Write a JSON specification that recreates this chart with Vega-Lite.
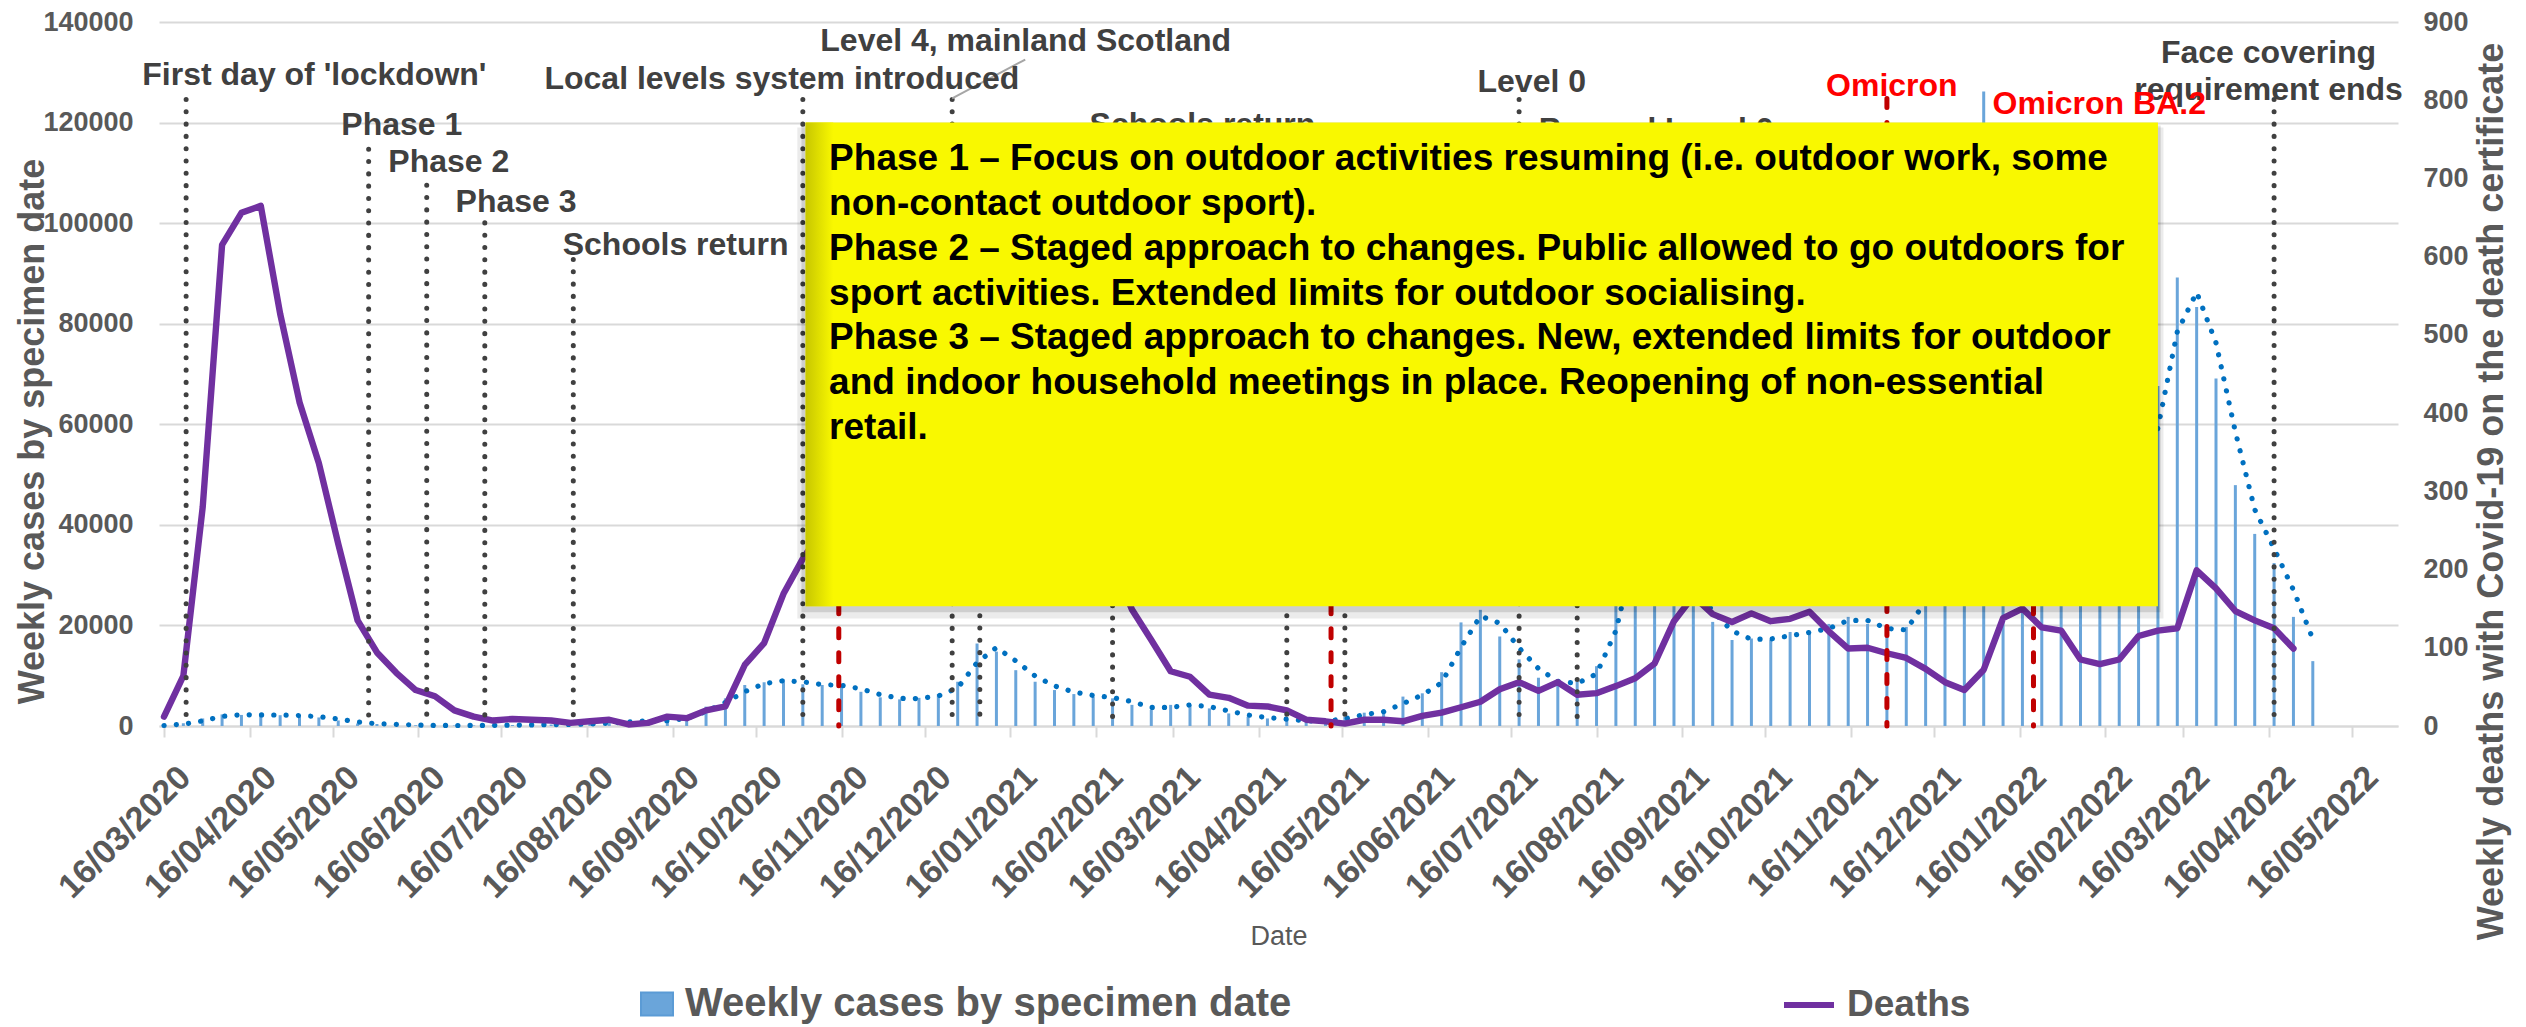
{
  "$schema": "https://vega.github.io/schema/vega-lite/v6.json",
  "width": 2239,
  "height": 704,
  "autosize": {"type": "none"},
  "padding": {"left": 159, "top": 22, "right": 128, "bottom": 301},
  "background": "white",
  "config": {
    "font": "Liberation Sans",
    "view": {"stroke": null},
    "axis": {"labelFont": "Liberation Sans", "titleFont": "Liberation Sans"},
    "axisX": {"labelFontSize": 34, "labelFontWeight": "bold", "labelColor": "#595959", "labelAngle": -45, "labelAlign": "right", "labelBaseline": "top", "labelPadding": 23, "labelOffset": 9, "labelLimit": 1000},
    "legend": {"labelFont": "Liberation Sans"}
  },
  "datasets": {
    "weekly": [
      {"date": "2020-03-16", "cases": 150, "trend": 100, "deaths": 12},
      {"date": "2020-03-23", "cases": 550, "trend": 350, "deaths": 64},
      {"date": "2020-03-30", "cases": 1500, "trend": 1025, "deaths": 280},
      {"date": "2020-04-06", "cases": 2300, "trend": 1900, "deaths": 615},
      {"date": "2020-04-13", "cases": 2200, "trend": 2250, "deaths": 656},
      {"date": "2020-04-20", "cases": 2200, "trend": 2200, "deaths": 665},
      {"date": "2020-04-27", "cases": 2150, "trend": 2175, "deaths": 527},
      {"date": "2020-05-04", "cases": 2000, "trend": 2075, "deaths": 414},
      {"date": "2020-05-11", "cases": 1700, "trend": 1850, "deaths": 336},
      {"date": "2020-05-18", "cases": 1100, "trend": 1400, "deaths": 233},
      {"date": "2020-05-25", "cases": 500, "trend": 800, "deaths": 135},
      {"date": "2020-06-01", "cases": 400, "trend": 450, "deaths": 94},
      {"date": "2020-06-08", "cases": 250, "trend": 325, "deaths": 68},
      {"date": "2020-06-15", "cases": 150, "trend": 200, "deaths": 46},
      {"date": "2020-06-22", "cases": 100, "trend": 125, "deaths": 38},
      {"date": "2020-06-29", "cases": 100, "trend": 100, "deaths": 20},
      {"date": "2020-07-06", "cases": 120, "trend": 110, "deaths": 12},
      {"date": "2020-07-13", "cases": 150, "trend": 135, "deaths": 7},
      {"date": "2020-07-20", "cases": 200, "trend": 175, "deaths": 9},
      {"date": "2020-07-27", "cases": 250, "trend": 225, "deaths": 8},
      {"date": "2020-08-03", "cases": 300, "trend": 275, "deaths": 7},
      {"date": "2020-08-10", "cases": 350, "trend": 325, "deaths": 4},
      {"date": "2020-08-17", "cases": 450, "trend": 400, "deaths": 6},
      {"date": "2020-08-24", "cases": 650, "trend": 550, "deaths": 8},
      {"date": "2020-08-31", "cases": 1000, "trend": 825, "deaths": 2},
      {"date": "2020-09-07", "cases": 1050, "trend": 1025, "deaths": 4},
      {"date": "2020-09-14", "cases": 1100, "trend": 1075, "deaths": 12},
      {"date": "2020-09-21", "cases": 1900, "trend": 1500, "deaths": 10},
      {"date": "2020-09-28", "cases": 3850, "trend": 2875, "deaths": 20},
      {"date": "2020-10-05", "cases": 5500, "trend": 4675, "deaths": 25},
      {"date": "2020-10-12", "cases": 8150, "trend": 6825, "deaths": 78},
      {"date": "2020-10-19", "cases": 8700, "trend": 8425, "deaths": 106},
      {"date": "2020-10-26", "cases": 9300, "trend": 9000, "deaths": 169},
      {"date": "2020-11-02", "cases": 8300, "trend": 8800, "deaths": 214},
      {"date": "2020-11-09", "cases": 8150, "trend": 8225, "deaths": 250},
      {"date": "2020-11-16", "cases": 8000, "trend": 8075, "deaths": 290},
      {"date": "2020-11-23", "cases": 6800, "trend": 7400, "deaths": 310},
      {"date": "2020-11-30", "cases": 5700, "trend": 6250, "deaths": 300},
      {"date": "2020-12-07", "cases": 5300, "trend": 5500, "deaths": 280},
      {"date": "2020-12-14", "cases": 5600, "trend": 5450, "deaths": 255},
      {"date": "2020-12-21", "cases": 6350, "trend": 5975, "deaths": 240},
      {"date": "2020-12-28", "cases": 8800, "trend": 7575, "deaths": 250},
      {"date": "2021-01-04", "cases": 16400, "trend": 12600, "deaths": 290},
      {"date": "2021-01-11", "cases": 14800, "trend": 15600, "deaths": 360},
      {"date": "2021-01-18", "cases": 11100, "trend": 12950, "deaths": 420},
      {"date": "2021-01-25", "cases": 8800, "trend": 9950, "deaths": 440},
      {"date": "2021-02-01", "cases": 7150, "trend": 7975, "deaths": 390},
      {"date": "2021-02-08", "cases": 6350, "trend": 6750, "deaths": 330},
      {"date": "2021-02-15", "cases": 5800, "trend": 6075, "deaths": 265},
      {"date": "2021-02-22", "cases": 5500, "trend": 5650, "deaths": 210},
      {"date": "2021-03-01", "cases": 4200, "trend": 4850, "deaths": 149},
      {"date": "2021-03-08", "cases": 3200, "trend": 3700, "deaths": 110},
      {"date": "2021-03-15", "cases": 4200, "trend": 3700, "deaths": 70},
      {"date": "2021-03-22", "cases": 4200, "trend": 4200, "deaths": 63},
      {"date": "2021-03-29", "cases": 3500, "trend": 3850, "deaths": 40},
      {"date": "2021-04-05", "cases": 2500, "trend": 3000, "deaths": 36},
      {"date": "2021-04-12", "cases": 1850, "trend": 2175, "deaths": 26},
      {"date": "2021-04-19", "cases": 1500, "trend": 1675, "deaths": 25},
      {"date": "2021-04-26", "cases": 1200, "trend": 1350, "deaths": 20},
      {"date": "2021-05-03", "cases": 850, "trend": 1025, "deaths": 8},
      {"date": "2021-05-10", "cases": 1050, "trend": 950, "deaths": 6},
      {"date": "2021-05-17", "cases": 1850, "trend": 1450, "deaths": 3},
      {"date": "2021-05-24", "cases": 2650, "trend": 2250, "deaths": 8},
      {"date": "2021-05-31", "cases": 3050, "trend": 2850, "deaths": 8},
      {"date": "2021-06-07", "cases": 5850, "trend": 4450, "deaths": 6},
      {"date": "2021-06-14", "cases": 6500, "trend": 6175, "deaths": 13},
      {"date": "2021-06-21", "cases": 10700, "trend": 8600, "deaths": 17},
      {"date": "2021-06-28", "cases": 20600, "trend": 15650, "deaths": 24},
      {"date": "2021-07-05", "cases": 23100, "trend": 21850, "deaths": 31},
      {"date": "2021-07-12", "cases": 17800, "trend": 20450, "deaths": 47},
      {"date": "2021-07-19", "cases": 13250, "trend": 15525, "deaths": 56},
      {"date": "2021-07-26", "cases": 9600, "trend": 11425, "deaths": 45},
      {"date": "2021-08-02", "cases": 8150, "trend": 8875, "deaths": 56},
      {"date": "2021-08-09", "cases": 8800, "trend": 8475, "deaths": 40},
      {"date": "2021-08-16", "cases": 11900, "trend": 10350, "deaths": 42},
      {"date": "2021-08-23", "cases": 26000, "trend": 18950, "deaths": 51},
      {"date": "2021-08-30", "cases": 44000, "trend": 35000, "deaths": 61},
      {"date": "2021-09-06", "cases": 40000, "trend": 42000, "deaths": 80},
      {"date": "2021-09-13", "cases": 31000, "trend": 35500, "deaths": 134},
      {"date": "2021-09-20", "cases": 25000, "trend": 28000, "deaths": 166},
      {"date": "2021-09-27", "cases": 20700, "trend": 22850, "deaths": 143},
      {"date": "2021-10-04", "cases": 17100, "trend": 18900, "deaths": 133},
      {"date": "2021-10-11", "cases": 17400, "trend": 17250, "deaths": 144},
      {"date": "2021-10-18", "cases": 17200, "trend": 17300, "deaths": 134},
      {"date": "2021-10-25", "cases": 18700, "trend": 17950, "deaths": 137},
      {"date": "2021-11-01", "cases": 18500, "trend": 18600, "deaths": 146},
      {"date": "2021-11-08", "cases": 20300, "trend": 19400, "deaths": 121},
      {"date": "2021-11-15", "cases": 21700, "trend": 21000, "deaths": 99},
      {"date": "2021-11-22", "cases": 20300, "trend": 21000, "deaths": 100},
      {"date": "2021-11-29", "cases": 18500, "trend": 19400, "deaths": 93},
      {"date": "2021-12-06", "cases": 19700, "trend": 19100, "deaths": 87},
      {"date": "2021-12-13", "cases": 30000, "trend": 24850, "deaths": 73},
      {"date": "2021-12-20", "cases": 58000, "trend": 44000, "deaths": 56},
      {"date": "2021-12-27", "cases": 100000, "trend": 79000, "deaths": 46},
      {"date": "2022-01-03", "cases": 126200, "trend": 113100, "deaths": 72},
      {"date": "2022-01-10", "cases": 85000, "trend": 105600, "deaths": 138},
      {"date": "2022-01-17", "cases": 52000, "trend": 68500, "deaths": 150},
      {"date": "2022-01-24", "cases": 44000, "trend": 48000, "deaths": 126},
      {"date": "2022-01-31", "cases": 42000, "trend": 43000, "deaths": 122},
      {"date": "2022-02-07", "cases": 40000, "trend": 41000, "deaths": 85},
      {"date": "2022-02-14", "cases": 41000, "trend": 40500, "deaths": 79},
      {"date": "2022-02-21", "cases": 44000, "trend": 42500, "deaths": 85},
      {"date": "2022-02-28", "cases": 51000, "trend": 47500, "deaths": 115},
      {"date": "2022-03-07", "cases": 67600, "trend": 59300, "deaths": 122},
      {"date": "2022-03-14", "cases": 89200, "trend": 78400, "deaths": 125},
      {"date": "2022-03-21", "cases": 83300, "trend": 86250, "deaths": 199},
      {"date": "2022-03-28", "cases": 69100, "trend": 76200, "deaths": 176},
      {"date": "2022-04-04", "cases": 47900, "trend": 58500, "deaths": 147},
      {"date": "2022-04-11", "cases": 38200, "trend": 43050, "deaths": 135},
      {"date": "2022-04-18", "cases": 32400, "trend": 35300, "deaths": 125},
      {"date": "2022-04-25", "cases": 21700, "trend": 27050, "deaths": 99},
      {"date": "2022-05-02", "cases": 12900, "trend": 17300, "deaths": null}
    ],
    "blackEvents": [
      {"date": "2020-03-24", "top": 124600},
      {"date": "2020-05-29", "top": 114700},
      {"date": "2020-06-19", "top": 107550},
      {"date": "2020-07-10", "top": 100060},
      {"date": "2020-08-11", "top": 92780},
      {"date": "2020-11-02", "top": 124600},
      {"date": "2020-12-26", "top": 124600},
      {"date": "2021-01-05", "top": 110000},
      {"date": "2021-02-22", "top": 112000},
      {"date": "2021-04-26", "top": 110000},
      {"date": "2021-05-17", "top": 110000},
      {"date": "2021-07-19", "top": 124600},
      {"date": "2021-08-09", "top": 112000},
      {"date": "2022-04-18", "top": 124600}
    ],
    "redEvents": [
      {"date": "2020-11-15", "top": 110000},
      {"date": "2021-05-12", "top": 110000},
      {"date": "2021-11-29", "top": 124800},
      {"date": "2022-01-21", "top": 110000}
    ]
  },
  "layer": [
    {
      "data": {"name": "weekly"},
      "layer": [
        {
          "mark": {"type": "bar", "size": 3},
          "encoding": {
            "x": {
              "field": "date", "type": "temporal",
              "scale": {"type": "utc", "domain": [{"year": 2020, "month": 3, "date": 16, "utc": true}, {"year": 2022, "month": 5, "date": 31, "utc": true}]},
              "axis": {
                "values": [
                  {"year": 2020, "month": 3, "date": 16, "utc": true}, {"year": 2020, "month": 4, "date": 16, "utc": true}, {"year": 2020, "month": 5, "date": 16, "utc": true},
                  {"year": 2020, "month": 6, "date": 16, "utc": true}, {"year": 2020, "month": 7, "date": 16, "utc": true}, {"year": 2020, "month": 8, "date": 16, "utc": true},
                  {"year": 2020, "month": 9, "date": 16, "utc": true}, {"year": 2020, "month": 10, "date": 16, "utc": true}, {"year": 2020, "month": 11, "date": 16, "utc": true},
                  {"year": 2020, "month": 12, "date": 16, "utc": true}, {"year": 2021, "month": 1, "date": 16, "utc": true}, {"year": 2021, "month": 2, "date": 16, "utc": true},
                  {"year": 2021, "month": 3, "date": 16, "utc": true}, {"year": 2021, "month": 4, "date": 16, "utc": true}, {"year": 2021, "month": 5, "date": 16, "utc": true},
                  {"year": 2021, "month": 6, "date": 16, "utc": true}, {"year": 2021, "month": 7, "date": 16, "utc": true}, {"year": 2021, "month": 8, "date": 16, "utc": true},
                  {"year": 2021, "month": 9, "date": 16, "utc": true}, {"year": 2021, "month": 10, "date": 16, "utc": true}, {"year": 2021, "month": 11, "date": 16, "utc": true},
                  {"year": 2021, "month": 12, "date": 16, "utc": true}, {"year": 2022, "month": 1, "date": 16, "utc": true}, {"year": 2022, "month": 2, "date": 16, "utc": true},
                  {"year": 2022, "month": 3, "date": 16, "utc": true}, {"year": 2022, "month": 4, "date": 16, "utc": true}, {"year": 2022, "month": 5, "date": 16, "utc": true}
                ],
                "format": "%d/%m/%Y",
                "labelAngle": -45,
                "labelAlign": "right",
                "labelBaseline": "top",
                "labelFontSize": 34,
                "labelFontWeight": "bold",
                "labelColor": "#595959",
                "labelPadding": 23,
                "labelOffset": 9,
                "labelFlush": false,
                "labelOverlap": false,
                "labelBound": false,
                "tickSize": 11,
                "tickColor": "#D9D9D9",
                "tickWidth": 2,
                "domainColor": "#D9D9D9",
                "domainWidth": 2,
                "grid": false,
                "title": "Date",
                "titleFontSize": 27,
                "titleFontWeight": "normal",
                "titleColor": "#595959",
                "titleY": 210,
                "titleBaseline": "middle"
              }
            },
            "y": {
              "field": "cases", "type": "quantitative",
              "scale": {"domain": [0, 140000], "nice": false},
              "axis": {
                "orient": "left",
                "values": [0, 20000, 40000, 60000, 80000, 100000, 120000, 140000],
                "format": "d",
                "labelFontSize": 27,
                "labelFontWeight": "bold",
                "labelColor": "#595959",
                "labelPadding": 26,
                "ticks": false,
                "tickSize": 0,
                "domain": false,
                "grid": true,
                "gridColor": "#D9D9D9",
                "gridWidth": 2,
                "title": "Weekly cases by specimen date",
                "titleFontSize": 36,
                "titleFontWeight": "bold",
                "titleColor": "#595959",
                "titleAngle": 270,
                "titleX": -116,
                "titleY": 409,
                "titleAlign": "center",
                "titleBaseline": "alphabetic"
              }
            },
            "color": {
              "datum": "Weekly cases by specimen date", "type": "nominal",
              "scale": {"range": ["#6AA5DA"]},
              "legend": {
                "orient": "none", "legendX": 478, "legendY": 962, "title": null,
                "labelFontSize": 40, "labelFontWeight": "bold", "labelColor": "#595959", "labelLimit": 2000,
                "labelOffset": 8,
                "symbolType": "M-1,-0.72H1V0.72H-1Z", "symbolSize": 1024,
                "encode": {"symbols": {"update": {"fill": {"value": "#DAE3F3"}, "stroke": {"value": "#5B9BD5"}, "strokeWidth": {"value": 2}}}}
              }
            }
          }
        },
        {
          "mark": {"type": "line", "color": "#0070C0", "strokeWidth": 5.2, "strokeDash": [0.1, 12.2], "strokeCap": "round"},
          "encoding": {
            "x": {"field": "date", "type": "temporal", "scale": {"type": "utc", "domain": [{"year": 2020, "month": 3, "date": 16, "utc": true}, {"year": 2022, "month": 5, "date": 31, "utc": true}]}},
            "y": {"field": "trend", "type": "quantitative", "scale": {"domain": [0, 140000], "nice": false}}
          }
        }
      ]
    },
    {
      "data": {"name": "weekly"},
      "mark": {"type": "line", "strokeWidth": 6.4, "strokeJoin": "round", "strokeCap": "round"},
      "encoding": {
        "x": {"field": "date", "type": "temporal", "scale": {"type": "utc", "domain": [{"year": 2020, "month": 3, "date": 16, "utc": true}, {"year": 2022, "month": 5, "date": 31, "utc": true}]}},
        "y": {
          "field": "deaths", "type": "quantitative",
          "scale": {"domain": [0, 900], "nice": false},
          "axis": {
            "orient": "right",
            "values": [0, 100, 200, 300, 400, 500, 600, 700, 800, 900],
            "labelFontSize": 27,
            "labelFontWeight": "bold",
            "labelColor": "#595959",
            "labelPadding": 25,
            "ticks": false,
            "tickSize": 0,
            "domain": false,
            "grid": false,
            "title": "Weekly deaths with Covid-19 on the death certificate",
            "titleFontSize": 36,
            "titleFontWeight": "bold",
            "titleColor": "#595959",
            "titleAngle": 270,
            "titleX": 104,
            "titleY": 469,
            "titleAlign": "center",
            "titleBaseline": "alphabetic"
          }
        },
        "stroke": {
          "datum": "Deaths", "type": "nominal",
          "scale": {"range": ["#7030A0"]},
          "legend": {
            "orient": "none", "legendX": 1622, "legendY": 955, "title": null,
            "labelFontSize": 37, "labelFontWeight": "bold", "labelColor": "#595959", "labelLimit": 2000,
            "labelOffset": 10,
            "symbolType": "stroke", "symbolSize": 2500, "symbolStrokeWidth": 6, "symbolStrokeColor": "#7030A0"
          }
        }
      }
    },
    {
      "data": {"values": [{}]},
      "layer": [
        {
          "data": {"name": "redEvents"},
          "mark": {"type": "rule", "color": "#C00000", "strokeWidth": 5, "strokeDash": [9, 15], "strokeCap": "round"},
          "encoding": {
            "x": {"field": "date", "type": "temporal", "scale": {"type": "utc", "domain": [{"year": 2020, "month": 3, "date": 16, "utc": true}, {"year": 2022, "month": 5, "date": 31, "utc": true}]}},
            "y": {"field": "top", "type": "quantitative", "scale": {"domain": [0, 140000], "nice": false}, "axis": null},
            "y2": {"datum": 0}
          }
        },
        {
          "data": {"name": "blackEvents"},
          "mark": {"type": "rule", "color": "#404040", "strokeWidth": 5, "strokeDash": [0.1, 12.2], "strokeCap": "round"},
          "encoding": {
            "x": {"field": "date", "type": "temporal", "scale": {"type": "utc", "domain": [{"year": 2020, "month": 3, "date": 16, "utc": true}, {"year": 2022, "month": 5, "date": 31, "utc": true}]}},
            "y": {"field": "top", "type": "quantitative", "scale": {"domain": [0, 140000], "nice": false}, "axis": null},
            "y2": {"datum": 0}
          }
        },
        {
          "mark": {"type": "rule", "color": "#A6A6A6", "strokeWidth": 2},
          "encoding": {
            "x": {"datum": {"year": 2020, "month": 12, "date": 26, "utc": true}, "type": "temporal", "scale": {"type": "utc", "domain": [{"year": 2020, "month": 3, "date": 16, "utc": true}, {"year": 2022, "month": 5, "date": 31, "utc": true}]}},
            "x2": {"datum": {"year": 2021, "month": 1, "date": 21, "hours": 10, "utc": true}},
            "y": {"datum": 124800, "type": "quantitative", "scale": {"domain": [0, 140000], "nice": false}, "axis": null},
            "y2": {"datum": 132540}
          }
        },
        {
          "mark": {"type": "text", "text": "First day of 'lockdown'", "fontSize": 32, "fontWeight": "bold", "color": "#404040", "align": "center", "baseline": "middle"},
          "encoding": {
            "x": {"datum": {"year": 2020, "month": 5, "date": 9, "hours": 9, "utc": true}, "type": "temporal", "scale": {"type": "utc", "domain": [{"year": 2020, "month": 3, "date": 16, "utc": true}, {"year": 2022, "month": 5, "date": 31, "utc": true}]}},
            "y": {"datum": 129400, "type": "quantitative", "scale": {"domain": [0, 140000], "nice": false}, "axis": null}
          }
        },
        {
          "mark": {"type": "text", "text": "Phase 1", "fontSize": 32, "fontWeight": "bold", "color": "#404040", "align": "center", "baseline": "middle"},
          "encoding": {
            "x": {"datum": {"year": 2020, "month": 6, "date": 10, "utc": true}, "type": "temporal", "scale": {"type": "utc", "domain": [{"year": 2020, "month": 3, "date": 16, "utc": true}, {"year": 2022, "month": 5, "date": 31, "utc": true}]}},
            "y": {"datum": 119480, "type": "quantitative", "scale": {"domain": [0, 140000], "nice": false}, "axis": null}
          }
        },
        {
          "mark": {"type": "text", "text": "Phase 2", "fontSize": 32, "fontWeight": "bold", "color": "#404040", "align": "center", "baseline": "middle"},
          "encoding": {
            "x": {"datum": {"year": 2020, "month": 6, "date": 27, "utc": true}, "type": "temporal", "scale": {"type": "utc", "domain": [{"year": 2020, "month": 3, "date": 16, "utc": true}, {"year": 2022, "month": 5, "date": 31, "utc": true}]}},
            "y": {"datum": 112120, "type": "quantitative", "scale": {"domain": [0, 140000], "nice": false}, "axis": null}
          }
        },
        {
          "mark": {"type": "text", "text": "Phase 3", "fontSize": 32, "fontWeight": "bold", "color": "#404040", "align": "center", "baseline": "middle"},
          "encoding": {
            "x": {"datum": {"year": 2020, "month": 7, "date": 21, "hours": 7, "utc": true}, "type": "temporal", "scale": {"type": "utc", "domain": [{"year": 2020, "month": 3, "date": 16, "utc": true}, {"year": 2022, "month": 5, "date": 31, "utc": true}]}},
            "y": {"datum": 104170, "type": "quantitative", "scale": {"domain": [0, 140000], "nice": false}, "axis": null}
          }
        },
        {
          "mark": {"type": "text", "text": "Schools return", "fontSize": 32, "fontWeight": "bold", "color": "#404040", "align": "center", "baseline": "middle"},
          "encoding": {
            "x": {"datum": {"year": 2020, "month": 9, "date": 17, "utc": true}, "type": "temporal", "scale": {"type": "utc", "domain": [{"year": 2020, "month": 3, "date": 16, "utc": true}, {"year": 2022, "month": 5, "date": 31, "utc": true}]}},
            "y": {"datum": 95560, "type": "quantitative", "scale": {"domain": [0, 140000], "nice": false}, "axis": null}
          }
        },
        {
          "mark": {"type": "text", "text": "Local levels system introduced", "fontSize": 32, "fontWeight": "bold", "color": "#404040", "align": "center", "baseline": "middle"},
          "encoding": {
            "x": {"datum": {"year": 2020, "month": 10, "date": 25, "hours": 10, "utc": true}, "type": "temporal", "scale": {"type": "utc", "domain": [{"year": 2020, "month": 3, "date": 16, "utc": true}, {"year": 2022, "month": 5, "date": 31, "utc": true}]}},
            "y": {"datum": 128680, "type": "quantitative", "scale": {"domain": [0, 140000], "nice": false}, "axis": null}
          }
        },
        {
          "mark": {"type": "text", "text": "Level 4, mainland Scotland", "fontSize": 32, "fontWeight": "bold", "color": "#404040", "align": "center", "baseline": "middle"},
          "encoding": {
            "x": {"datum": {"year": 2021, "month": 1, "date": 21, "hours": 14, "utc": true}, "type": "temporal", "scale": {"type": "utc", "domain": [{"year": 2020, "month": 3, "date": 16, "utc": true}, {"year": 2022, "month": 5, "date": 31, "utc": true}]}},
            "y": {"datum": 136320, "type": "quantitative", "scale": {"domain": [0, 140000], "nice": false}, "axis": null}
          }
        },
        {
          "mark": {"type": "text", "text": "Schools return", "fontSize": 32, "fontWeight": "bold", "color": "#404040", "align": "center", "baseline": "middle"},
          "encoding": {
            "x": {"datum": {"year": 2021, "month": 3, "date": 26, "hours": 12, "utc": true}, "type": "temporal", "scale": {"type": "utc", "domain": [{"year": 2020, "month": 3, "date": 16, "utc": true}, {"year": 2022, "month": 5, "date": 31, "utc": true}]}},
            "y": {"datum": 119480, "type": "quantitative", "scale": {"domain": [0, 140000], "nice": false}, "axis": null}
          }
        },
        {
          "mark": {"type": "text", "text": "Level 0", "fontSize": 32, "fontWeight": "bold", "color": "#404040", "align": "center", "baseline": "middle"},
          "encoding": {
            "x": {"datum": {"year": 2021, "month": 7, "date": 23, "hours": 14, "utc": true}, "type": "temporal", "scale": {"type": "utc", "domain": [{"year": 2020, "month": 3, "date": 16, "utc": true}, {"year": 2022, "month": 5, "date": 31, "utc": true}]}},
            "y": {"datum": 128030, "type": "quantitative", "scale": {"domain": [0, 140000], "nice": false}, "axis": null}
          }
        },
        {
          "mark": {"type": "text", "text": "Beyond Level 0", "fontSize": 32, "fontWeight": "bold", "color": "#404040", "align": "center", "baseline": "middle"},
          "encoding": {
            "x": {"datum": {"year": 2021, "month": 9, "date": 6, "hours": 14, "utc": true}, "type": "temporal", "scale": {"type": "utc", "domain": [{"year": 2020, "month": 3, "date": 16, "utc": true}, {"year": 2022, "month": 5, "date": 31, "utc": true}]}},
            "y": {"datum": 118600, "type": "quantitative", "scale": {"domain": [0, 140000], "nice": false}, "axis": null}
          }
        },
        {
          "mark": {"type": "text", "text": ["Face covering", "requirement ends"], "fontSize": 32, "fontWeight": "bold", "color": "#404040", "align": "center", "baseline": "top", "lineHeight": 36.6},
          "encoding": {
            "x": {"datum": {"year": 2022, "month": 4, "date": 16, "utc": true}, "type": "temporal", "scale": {"type": "utc", "domain": [{"year": 2020, "month": 3, "date": 16, "utc": true}, {"year": 2022, "month": 5, "date": 31, "utc": true}]}},
            "y": {"datum": 136800, "type": "quantitative", "scale": {"domain": [0, 140000], "nice": false}, "axis": null}
          }
        },
        {
          "mark": {"type": "text", "text": "Omicron", "fontSize": 32, "fontWeight": "bold", "color": "#FF0000", "align": "center", "baseline": "middle"},
          "encoding": {
            "x": {"datum": {"year": 2021, "month": 11, "date": 30, "hours": 19, "utc": true}, "type": "temporal", "scale": {"type": "utc", "domain": [{"year": 2020, "month": 3, "date": 16, "utc": true}, {"year": 2022, "month": 5, "date": 31, "utc": true}]}},
            "y": {"datum": 127370, "type": "quantitative", "scale": {"domain": [0, 140000], "nice": false}, "axis": null}
          }
        },
        {
          "mark": {"type": "rect", "color": "#000000", "opacity": 0.08},
          "encoding": {
            "x": {"datum": {"year": 2020, "month": 10, "date": 31, "utc": true}, "type": "temporal", "scale": {"type": "utc", "domain": [{"year": 2020, "month": 3, "date": 16, "utc": true}, {"year": 2022, "month": 5, "date": 31, "utc": true}]}},
            "x2": {"datum": {"year": 2022, "month": 3, "date": 9, "utc": true}},
            "y": {"datum": 119000, "type": "quantitative", "scale": {"domain": [0, 140000], "nice": false}, "axis": null},
            "y2": {"datum": 21400}
          }
        },
        {
          "mark": {"type": "rect", "color": "#000000", "opacity": 0.12},
          "encoding": {
            "x": {"datum": {"year": 2020, "month": 11, "date": 1, "hours": 12, "utc": true}, "type": "temporal", "scale": {"type": "utc", "domain": [{"year": 2020, "month": 3, "date": 16, "utc": true}, {"year": 2022, "month": 5, "date": 31, "utc": true}]}},
            "x2": {"datum": {"year": 2022, "month": 3, "date": 8, "utc": true}},
            "y": {"datum": 119400, "type": "quantitative", "scale": {"domain": [0, 140000], "nice": false}, "axis": null},
            "y2": {"datum": 22600}
          }
        },
        {
          "mark": {"type": "rect", "color": "#F9F800"},
          "encoding": {
            "x": {"datum": {"year": 2020, "month": 11, "date": 3, "utc": true}, "type": "temporal", "scale": {"type": "utc", "domain": [{"year": 2020, "month": 3, "date": 16, "utc": true}, {"year": 2022, "month": 5, "date": 31, "utc": true}]}},
            "x2": {"datum": {"year": 2022, "month": 3, "date": 7, "utc": true}},
            "y": {"datum": 120000, "type": "quantitative", "scale": {"domain": [0, 140000], "nice": false}, "axis": null},
            "y2": {"datum": 23800}
          }
        },
        {
          "mark": {"type": "rect", "color": {"gradient": "linear", "x1": 0, "y1": 0, "x2": 1, "y2": 0, "stops": [{"offset": 0, "color": "#C8C700"}, {"offset": 1, "color": "#F9F800"}]}},
          "encoding": {
            "x": {"datum": {"year": 2020, "month": 11, "date": 3, "utc": true}, "type": "temporal", "scale": {"type": "utc", "domain": [{"year": 2020, "month": 3, "date": 16, "utc": true}, {"year": 2022, "month": 5, "date": 31, "utc": true}]}},
            "x2": {"datum": {"year": 2020, "month": 11, "date": 13, "utc": true}},
            "y": {"datum": 120000, "type": "quantitative", "scale": {"domain": [0, 140000], "nice": false}, "axis": null},
            "y2": {"datum": 23800}
          }
        },
        {
          "mark": {
            "type": "text",
            "text": [
              "Phase 1 – Focus on outdoor activities resuming (i.e. outdoor work, some",
              "non-contact outdoor sport).",
              "Phase 2 – Staged approach to changes. Public allowed to go outdoors for",
              "sport activities. Extended limits for outdoor socialising.",
              "Phase 3 – Staged approach to changes. New, extended limits for outdoor",
              "and indoor household meetings in place. Reopening of non-essential",
              "retail."
            ],
            "fontSize": 37, "fontWeight": "bold", "color": "#000000", "align": "left", "baseline": "top", "lineHeight": 44.8
          },
          "encoding": {
            "x": {"datum": {"year": 2020, "month": 11, "date": 11, "hours": 12, "utc": true}, "type": "temporal", "scale": {"type": "utc", "domain": [{"year": 2020, "month": 3, "date": 16, "utc": true}, {"year": 2022, "month": 5, "date": 31, "utc": true}]}},
            "y": {"datum": 116300, "type": "quantitative", "scale": {"domain": [0, 140000], "nice": false}, "axis": null}
          }
        },
        {
          "mark": {"type": "text", "text": "Omicron BA.2", "fontSize": 32, "fontWeight": "bold", "color": "#FF0000", "align": "center", "baseline": "middle"},
          "encoding": {
            "x": {"datum": {"year": 2022, "month": 2, "date": 13, "hours": 19, "utc": true}, "type": "temporal", "scale": {"type": "utc", "domain": [{"year": 2020, "month": 3, "date": 16, "utc": true}, {"year": 2022, "month": 5, "date": 31, "utc": true}]}},
            "y": {"datum": 123750, "type": "quantitative", "scale": {"domain": [0, 140000], "nice": false}, "axis": null}
          }
        }
      ]
    }
  ],
  "resolve": {"scale": {"y": "independent"}}
}
